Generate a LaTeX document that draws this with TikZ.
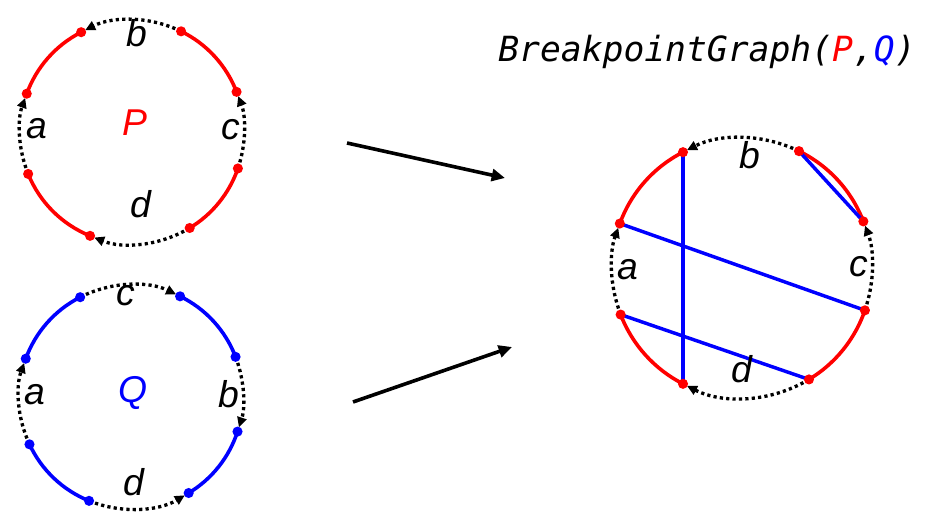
\documentclass[tikz,border=0pt]{standalone}
\usepackage{fontspec}
\setmainfont{Liberation Sans}
\newfontfamily\titlemono{DejaVu Sans Mono}
\usetikzlibrary{arrows.meta,calc}
\begin{document}
\begin{tikzpicture}[x=0.75pt,y=0.75pt,
  redarc/.style={draw=red, line width=2.7pt},
  bluearc/.style={draw=blue, line width=2.7pt},
  bluechord/.style={draw=blue, line width=2.6pt},
  dotarc/.style={draw=black, line width=2.5pt, dash pattern=on 2.4pt off 2.4pt,
     -{Triangle[length=7.5pt,width=7pt]}, shorten >=3.4pt},
  bigarrow/.style={draw=black, line width=2.7pt, -{Triangle[length=10pt,width=9pt]}},
  lab/.style={font=\fontsize{28}{32}\selectfont\itshape, inner sep=0pt},
  titlef/.style={font=\fontsize{26}{30}\selectfont\titlemono\itshape, inner sep=0pt}]
\useasboundingbox (0,0) rectangle (925,513);

% ---------- P ----------
\coordinate (Pc) at (132,381);
\foreach \n/\a in {1/117,2/64,3/160,4/21,5/202,6/341,7/248,8/301}
  \coordinate (P\n) at ($(Pc)+(\a:84pt)$);
\draw[redarc] (P1) arc[start angle=117, end angle=160, radius=84pt];
\draw[redarc] (P2) arc[start angle=64, end angle=21, radius=84pt];
\draw[redarc] (P5) arc[start angle=202, end angle=248, radius=84pt];
\draw[redarc] (P8) arc[start angle=301, end angle=341, radius=84pt];
\draw[dotarc] (P2) arc[start angle=64, end angle=117, radius=84pt];
\draw[dotarc] (P5) arc[start angle=202, end angle=160, radius=84pt];
\draw[dotarc] (P6) arc[start angle=341, end angle=381, radius=84pt];
\draw[dotarc] (P8) arc[start angle=301, end angle=248, radius=84pt];
\foreach \n in {1,...,8} \fill[red] (P\n) circle (3.8pt);
\node[lab] (Pb) at (137,480) {b};
\node[lab] (Pa) at (37,384) {a};
\node[lab] (Pcl) at (231,383) {c};
\node[lab] (Pd) at (141,309) {d};
\node[lab, text=red] (Pname) at (135,390) {P};

% ---------- Q ----------
\coordinate (Qc) at (131,116);
\foreach \n/\a in {1/117,2/64,3/160,4/21,5/205,6/342,7/248,8/301}
  \coordinate (Q\n) at ($(Qc)+(\a:84pt)$);
\draw[bluearc] (Q1) arc[start angle=117, end angle=160, radius=84pt];
\draw[bluearc] (Q2) arc[start angle=64, end angle=21, radius=84pt];
\draw[bluearc] (Q5) arc[start angle=205, end angle=248, radius=84pt];
\draw[bluearc] (Q8) arc[start angle=301, end angle=342, radius=84pt];
\draw[dotarc] (Q1) arc[start angle=117, end angle=64, radius=84pt];
\draw[dotarc] (Q5) arc[start angle=205, end angle=160, radius=84pt];
\draw[dotarc] (Q4) arc[start angle=21, end angle=-18, radius=84pt];
\draw[dotarc] (Q7) arc[start angle=248, end angle=301, radius=84pt];
\foreach \n in {1,...,8} \fill[blue] (Q\n) circle (3.8pt);
\node[lab] (Qc1) at (126,217) {c};
\node[lab] (Qa) at (35,118) {a};
\node[lab] (Qb) at (229,119) {b};
\node[lab] (Qd) at (134,31) {d};
\node[lab, text=blue] (Qname) at (133,120) {Q};

% ---------- Breakpoint graph ----------
\coordinate (Rc) at (742,245);
\foreach \n/\a in {1/117,2/64,3/160,4/21,5/201,6/341,7/243,8/301}
  \coordinate (R\n) at ($(Rc)+(\a:97.5pt)$);
\draw[redarc] (R1) arc[start angle=117, end angle=160, radius=97.5pt];
\draw[redarc] (R2) arc[start angle=64, end angle=21, radius=97.5pt];
\draw[redarc] (R5) arc[start angle=201, end angle=243, radius=97.5pt];
\draw[redarc] (R8) arc[start angle=301, end angle=341, radius=97.5pt];
\draw[dotarc] (R2) arc[start angle=64, end angle=117, radius=97.5pt];
\draw[dotarc] (R5) arc[start angle=201, end angle=160, radius=97.5pt];
\draw[dotarc] (R6) arc[start angle=341, end angle=381, radius=97.5pt];
\draw[dotarc] (R8) arc[start angle=301, end angle=243, radius=97.5pt];
\draw[bluechord] (R1) -- (R7);
\draw[bluechord] (R2) -- (R4);
\draw[bluechord] (R3) -- (R6);
\draw[bluechord] (R5) -- (R8);
\foreach \n in {1,...,8} \fill[red] (R\n) circle (3.8pt);
\node[lab] (Rb) at (750,358) {b};
\node[lab] (Ra) at (628,243) {a};
\node[lab] (Rcl) at (859,246) {c};
\node[lab] (Rd) at (742,144) {d};

% ---------- arrows ----------
\coordinate (A1s) at (347,370);
\coordinate (A1e) at (505,335);
\coordinate (A2s) at (353,111);
\coordinate (A2e) at (512,166);
\draw[bigarrow] (A1s) -- (A1e);
\draw[bigarrow] (A2s) -- (A2e);

% ---------- title ----------
\node[titlef] (title) at (707,461) {BreakpointGraph(\textcolor{red}{P},\textcolor{blue}{Q})};
\end{tikzpicture}
\end{document}
